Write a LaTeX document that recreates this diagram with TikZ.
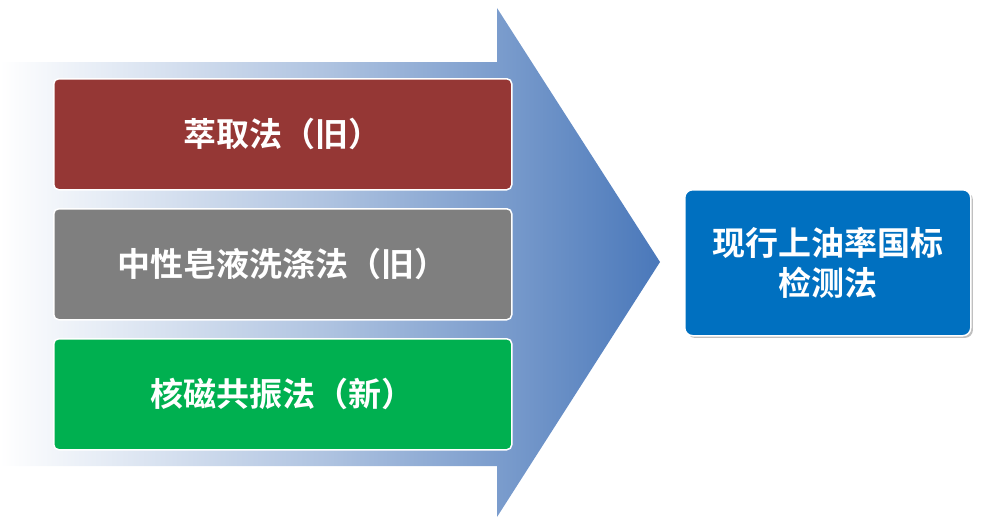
\documentclass[tikz,border=0pt]{standalone}
\usepackage{fontspec}
\newfontfamily\cjk{Noto Sans CJK SC Bold}
\usetikzlibrary{shadows}
\definecolor{arrowblue}{HTML}{4A78BA}
\definecolor{boxred}{HTML}{953735}
\definecolor{boxgray}{HTML}{7F7F7F}
\definecolor{boxgreen}{HTML}{00B050}
\definecolor{boxblue}{HTML}{0070C0}
\tikzset{
  item/.style={draw=white, line width=1.5pt, rounded corners=5pt, minimum width=458pt, minimum height=111pt, text=white, font=\cjk\fontsize{33}{40}\selectfont, anchor=north west},
}
\begin{document}
\begin{tikzpicture}[x=1pt,y=-1pt]
\useasboundingbox (0,0) rectangle (981,527);
\shade[left color=white, right color=arrowblue, middle color=arrowblue!45]
  (0,62) -- (497,62) -- (497,8) -- (660,262) -- (497,517) -- (497,466) -- (0,466) -- cycle;
\node[item, fill=boxred] (a) at (53,78) {萃取法（旧）};
\node[item, fill=boxgray] (b) at (53,208) {中性皂液洗涤法（旧）};
\node[item, fill=boxgreen] (c) at (53,338) {核磁共振法（新）};
\node[draw=white, line width=1.5pt, rounded corners=8pt, fill=boxblue, drop shadow={opacity=0.5}, minimum width=286pt, minimum height=146pt, text=white, align=center, font=\cjk\fontsize{33}{40}\selectfont, anchor=north west] (d) at (684,189) {现行上油率国标\\检测法};
\end{tikzpicture}
\end{document}
